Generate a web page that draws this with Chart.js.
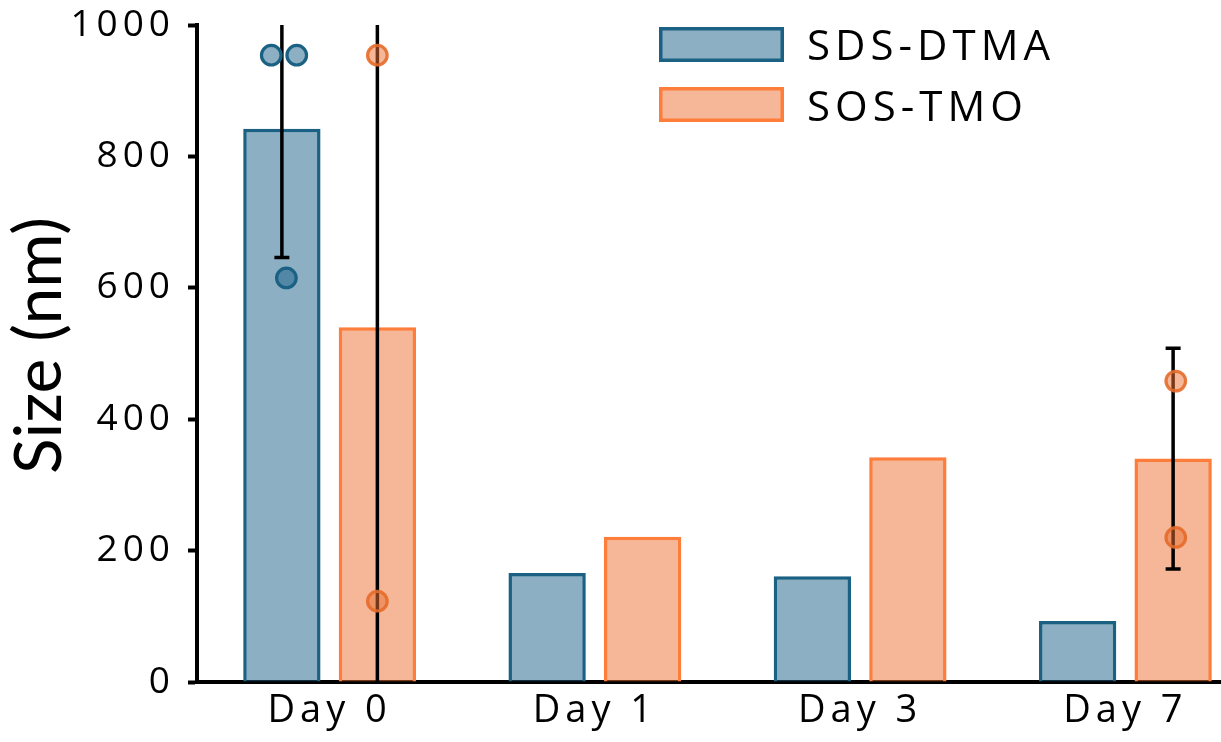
<!DOCTYPE html>
<html><head><meta charset="utf-8">
<script src="https://cdn.jsdelivr.net/npm/chart.js@4.4.1/dist/chart.umd.min.js"></script>
<style>
html,body{margin:0;padding:0;background:#fff;overflow:hidden;width:1221px;height:742px}
canvas{display:block}
</style></head>
<body><canvas id="c" width="1262" height="742"></canvas>
<script>
// ---- data ----
const categories = ['Day 0', 'Day 1', 'Day 3', 'Day 7'];
const seriesNames = ['SDS-DTMA', 'SOS-TMO'];
const sdsMeans = [842, 166, 161, 93];
const sosMeans = [540, 221, 342, 340];
const sdsErr = [196, null, null, null];
const sosErr = [586, null, null, 168];
const sdsPointDay = [0, 0, 0];
const sdsPointVal = [954, 954, 615];
const sosPointDay = [0, 0, 3, 3];
const sosPointVal = [954, 123, 458, 220];
const yTicks = [0, 200, 400, 600, 800, 1000];

// ---- layout / style (not data) ----
const sdsJitter = [-0.040, 0.056, 0.017];   // in category widths
const sosJitter = [0, 0, 0.01, 0.01];
const CAT_PCT = 0.72, BAR_PCT = 0.81;
const FONT = "'Open Sans', 'Noto Sans', sans-serif";
const TITLE_FONT = "Lato, 'Open Sans', sans-serif";
const SPACING = '5px';
const SDS_FILL = 'rgba(26,96,135,0.5)', SDS_LINE = '#1B6183';
const SOS_FILL = 'rgba(235,112,50,0.5)', SOS_LINE = '#FE7D3A';
const SOS_PT_LINE = 'rgba(230,108,42,0.9)';

const spacingPlugin = {
  id: 'spacing',
  beforeDraw(chart) {
    chart.ctx.letterSpacing = SPACING;
    const y = chart.scales.y;
    if (y && !y._titleWrapped) {
      const orig = y.drawTitle.bind(y);
      y.drawTitle = function () {
        const c = this.ctx;
        c.save();
        c.letterSpacing = '0px';
        c.translate(0, -8);
        orig();
        c.restore();
      };
      y._titleWrapped = true;
    }
  }
};

const errorBarPlugin = {
  id: 'errorBars',
  afterDatasetDraw(chart, args) {
    const ds = chart.data.datasets[args.index];
    if (!ds.errors) return;
    const ctx = chart.ctx, y = chart.scales.y, a = chart.chartArea;
    ctx.save();
    ctx.beginPath();
    ctx.rect(a.left, a.top, a.right - a.left, a.bottom - a.top);
    ctx.clip();
    ctx.strokeStyle = '#000';
    ctx.lineWidth = 3.5;
    ctx.lineCap = 'butt';
    args.meta.data.forEach((bar, i) => {
      const e = ds.errors[i];
      if (e == null) return;
      const v = ds.data[i];
      const yt = y.getPixelForValue(v + e), yb = y.getPixelForValue(v - e);
      const x = bar.x;
      ctx.beginPath();
      ctx.moveTo(x, yt); ctx.lineTo(x, yb);
      ctx.moveTo(x - 7.5, yt); ctx.lineTo(x + 7.5, yt);
      ctx.moveTo(x - 7.5, yb); ctx.lineTo(x + 7.5, yb);
      ctx.stroke();
    });
    ctx.restore();
  }
};

// individual measurements, placed on each bar's x (from the bar element) and the y scale
const pointsPlugin = {
  id: 'points',
  afterDatasetsDraw(chart) {
    const ctx = chart.ctx, y = chart.scales.y, x = chart.scales.x;
    const step = x.getPixelForValue(1) - x.getPixelForValue(0);
    chart.data.datasets.forEach((ds, di) => {
      if (!ds.points) return;
      const meta = chart.getDatasetMeta(di);
      ds.points.days.forEach((day, k) => {
        const bar = meta.data[day];
        const px = bar.x + ds.points.jitter[k] * step;
        const py = y.getPixelForValue(ds.points.values[k]);
        ctx.save();
        ctx.beginPath();
        ctx.arc(px, py, 9.8, 0, Math.PI * 2);
        ctx.fillStyle = ds.points.fill;
        ctx.fill();
        ctx.lineWidth = 3.2;
        ctx.strokeStyle = ds.points.line;
        ctx.stroke();
        ctx.restore();
      });
    });
  }
};

const legendPlugin = {
  id: 'customLegend',
  afterDraw(chart) {
    const ctx = chart.ctx;
    const items = chart.data.datasets;
    ctx.save();
    ctx.letterSpacing = SPACING;
    items.forEach((d, i) => {
      const bx = 659, by = 27 + i * 60, bw = 125, bh = 35;
      ctx.fillStyle = '#fff';
      ctx.fillRect(bx, by, bw, bh);
      ctx.fillStyle = d.backgroundColor;
      ctx.fillRect(bx, by, bw, bh);
      ctx.strokeStyle = d.borderColor;
      ctx.lineWidth = 3.5;
      ctx.strokeRect(bx + 1.75, by + 1.75, bw - 3.5, bh - 3.5);
      ctx.fillStyle = '#000';
      ctx.font = "42px " + FONT;
      ctx.textBaseline = 'alphabetic';
      ctx.textAlign = 'left';
      ctx.fillText(d.label, 807, 60 + i * 61);
    });
    ctx.restore();
  }
};

new Chart(document.getElementById('c'), {
  type: 'bar',
  data: {
    labels: categories,
    datasets: [
      {
        label: seriesNames[0], data: sdsMeans, errors: sdsErr,
        points: { days: sdsPointDay, values: sdsPointVal, jitter: sdsJitter, fill: SDS_FILL, line: SDS_LINE },
        backgroundColor: SDS_FILL, borderColor: SDS_LINE, borderWidth: 3.5,
        categoryPercentage: CAT_PCT, barPercentage: BAR_PCT
      },
      {
        label: seriesNames[1], data: sosMeans, errors: sosErr,
        points: { days: sosPointDay, values: sosPointVal, jitter: sosJitter, fill: SOS_FILL, line: SOS_PT_LINE },
        backgroundColor: SOS_FILL, borderColor: SOS_LINE, borderWidth: 3.5,
        categoryPercentage: CAT_PCT, barPercentage: BAR_PCT
      }
    ]
  },
  options: {
    responsive: false,
    animation: false,
    devicePixelRatio: 1,
    layout: { padding: { top: 25, right: 4, left: 0, bottom: 0 } },
    plugins: { legend: { display: false }, tooltip: { enabled: false } },
    scales: {
      x: {
        type: 'category', offset: true, position: 'bottom',
        afterFit: s => { s.height = 60; s.paddingLeft = 0; s.paddingRight = 0; },
        grid: { display: true, drawOnChartArea: false, drawTicks: false },
        border: { display: true, color: '#000', width: 4 },
        ticks: { font: { family: FONT, size: 38 }, color: '#000', padding: 6 }
      },
      y: {
        type: 'linear', position: 'left', min: 0, max: 1000,
        afterFit: s => { s.width = 197; s.paddingTop = 0; s.paddingBottom = 0; },
        afterBuildTicks: s => { s.ticks = yTicks.map(v => ({ value: v })); },
        ticks: { font: { family: FONT, size: 37 }, color: '#000', padding: 13, callback: v => String(v) },
        grid: { display: true, drawOnChartArea: false, drawTicks: true, tickLength: 9, tickWidth: 4, tickColor: '#000', color: '#000' },
        border: { display: true, color: '#000', width: 4 },
        title: { display: true, text: 'Size (nm)', color: '#000', font: { family: TITLE_FONT, size: 66 }, padding: { top: 0, bottom: 0 } }
      }
    }
  },
  plugins: [spacingPlugin, errorBarPlugin, pointsPlugin, legendPlugin]
});
</script>
</body></html>
